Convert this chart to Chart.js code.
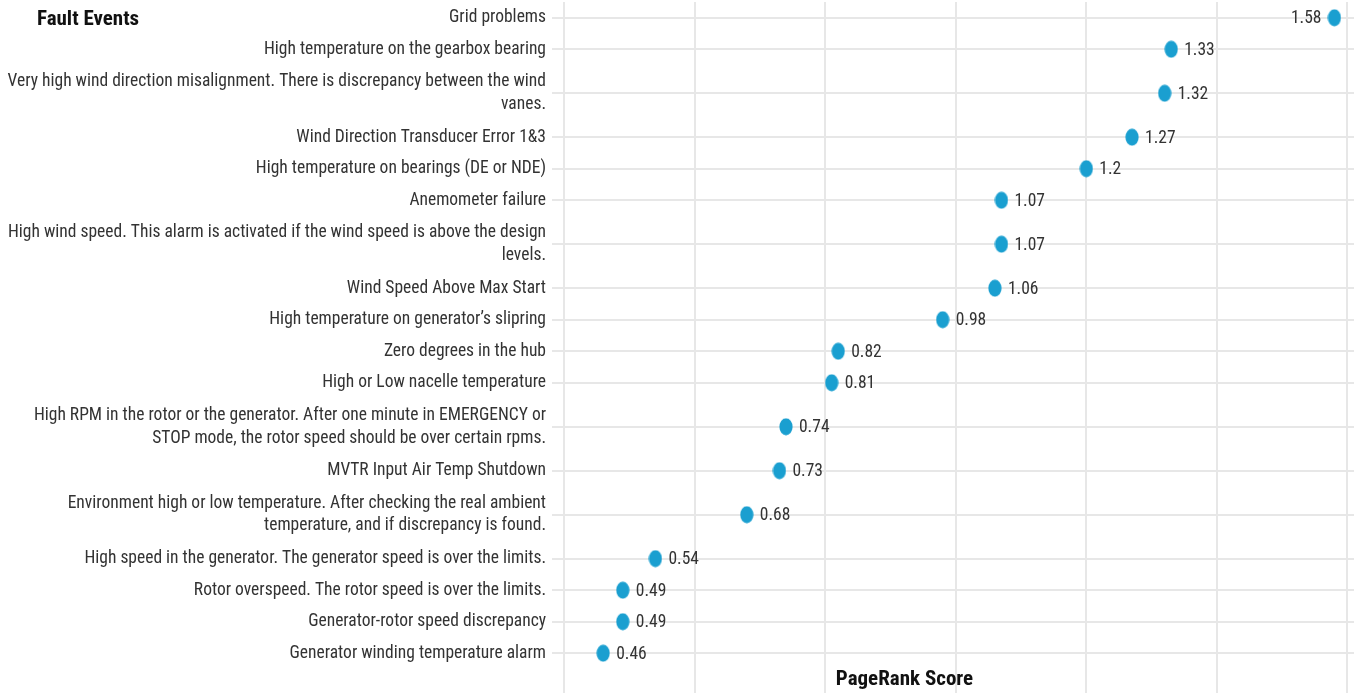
<!DOCTYPE html>
<html>
<head>
<meta charset="utf-8">
<script src="https://cdn.jsdelivr.net/npm/chart.js@4/dist/chart.umd.min.js"></script>
<style>
body{margin:0;background:#fff;}
#wrap{width:1354px;height:693px;}
</style>
</head>
<body>
<div id="wrap"><canvas id="faultChart" width="1354" height="693"></canvas></div>
<script>
// Fault events ranked by PageRank score

const faultEvents = [
"Grid problems",
"High temperature on the gearbox bearing",
["Very high wind direction misalignment. There is discrepancy between the wind","vanes."],
"Wind Direction Transducer Error 1&3",
"High temperature on bearings (DE or NDE)",
"Anemometer failure",
["High wind speed. This alarm is activated if the wind speed is above the design","levels."],
"Wind Speed Above Max Start",
"High temperature on generator\u2019s slipring",
"Zero degrees in the hub",
"High or Low nacelle temperature",
["High RPM in the rotor or the generator. After one minute in EMERGENCY or","STOP mode, the rotor speed should be over certain rpms."],
"MVTR Input Air Temp Shutdown",
["Environment high or low temperature. After checking the real ambient","temperature, and if discrepancy is found."],
"High speed in the generator. The generator speed is over the limits.",
"Rotor overspeed. The rotor speed is over the limits.",
"Generator-rotor speed discrepancy",
"Generator winding temperature alarm"
];

const pageRank = [1.58,1.33,1.32,1.27,1.2,1.07,1.07,1.06,0.98,0.82,0.81,0.74,0.73,0.68,0.54,0.49,0.49,0.46];

const scoreMin = 0.4;
const scoreMax = 1.61;
const scoreStep = 0.2;

// rows grow when the label wraps (one row = 1, each extra line adds this much)
const wrapExtra = 0.79;
const rowSize = faultEvents.map(l => 1 + wrapExtra * ((Array.isArray(l) ? l.length : 1) - 1));
const rowCenter = [];
let acc = 0;
rowSize.forEach(h => { rowCenter.push(acc + h / 2); acc += h; });
const rowTotal = acc;

const FONT = "'Roboto Condensed', Roboto, sans-serif";
const TEXT = "#333333";
const GRID = "#e7e7e7";
const DOT = "#1a9fd0";

Chart.defaults.font.family = FONT;
Chart.defaults.color = TEXT;

// slightly tall dot, like the original
const dot = document.createElement("canvas");
dot.width = 14; dot.height = 18;
(function(){
const c = dot.getContext("2d");
c.fillStyle = DOT;
c.beginPath();
c.ellipse(7,9,6.6,8.4,0,0,Math.PI*2);
c.fill();
})();

function noPad(s){
s.paddingTop = 0; s.paddingBottom = 0;
s.paddingLeft = 0; s.paddingRight = 0;
}

const valueLabels = {
id:"valueLabels",
afterDatasetsDraw(chart){
const ctx = chart.ctx;
const meta = chart.getDatasetMeta(0);
ctx.save();
ctx.font = "17.5px " + FONT;
ctx.fillStyle = TEXT;
ctx.textBaseline = "middle";
meta.data.forEach((pt,i)=>{
const txt = String(pageRank[i]);
const w = ctx.measureText(txt).width;
if (pt.x + 13 + w > chart.chartArea.right) {
ctx.textAlign = "right";
ctx.fillText(txt, pt.x - 13, pt.y + 1);
} else {
ctx.textAlign = "left";
ctx.fillText(txt, pt.x + 13, pt.y + 1);
}
});
ctx.restore();
}
};

const titles = {
id:"titles",
afterDraw(chart){
const ctx = chart.ctx;
const a = chart.chartArea;
ctx.save();
ctx.font = "bold 21px " + FONT;
ctx.fillStyle = "#111";
ctx.textBaseline = "middle";
ctx.textAlign = "left";
ctx.fillText("Fault Events", 37, 20);
ctx.textAlign = "center";
ctx.fillText("PageRank Score", a.left + (a.right - a.left) * 0.431, chart.height - 13);
ctx.restore();
}
};

new Chart(
document.getElementById("faultChart"),
{
type:"scatter",
data:{
datasets:[{
data:pageRank.map((v,i)=>({x:v,y:rowCenter[i]})),
clip:false,
pointStyle:dot,
pointRadius:7,
pointHoverRadius:7
}]
},
options:{
responsive:false,
animation:false,
layout:{padding:{top:2,right:0,bottom:0,left:0},autoPadding:false},
plugins:{legend:{display:false},tooltip:{enabled:false}},
scales:{
y:{
type:"linear",
reverse:true,
min:0,
max:rowTotal,
border:{display:false},
grid:{color:GRID,lineWidth:2,drawTicks:true,tickLength:12},
ticks:{
color:TEXT,padding:6,autoSkip:false,
font:{size:17.5,lineHeight:1.3},
callback:(v,i)=>faultEvents[i]
},
afterBuildTicks(s){ s.ticks = rowCenter.map(v=>({value:v})); },
afterFit(s){ s.width = 564; noPad(s); }
},
x:{
type:"linear",
min:scoreMin,
max:scoreMax,
border:{display:false},
grid:{color:GRID,lineWidth:2,drawTicks:true,tickLength:24},
ticks:{display:false,stepSize:scoreStep,includeBounds:false},
afterFit(s){ s.height = 24; noPad(s); }
}
}
},
plugins:[valueLabels,titles]
}
);
</script>
</body>
</html>
